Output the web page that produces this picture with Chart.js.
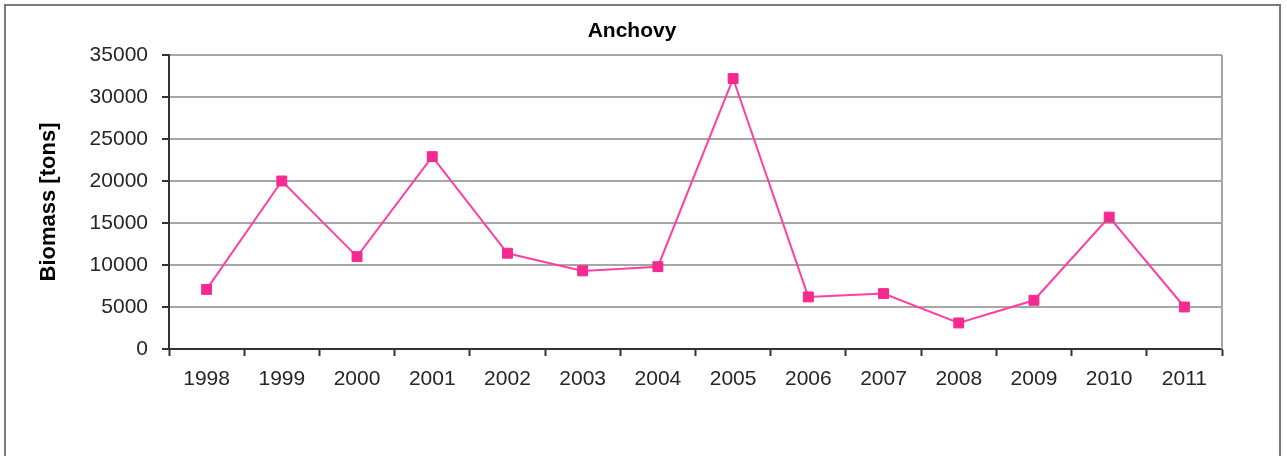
<!DOCTYPE html>
<html>
<head>
<meta charset="utf-8">
<script src="https://cdn.jsdelivr.net/npm/chart.js@4/dist/chart.umd.min.js"></script>
<style>
  html, body { margin: 0; padding: 0; background: #fff; }
  #wrap { position: relative; width: 1287px; height: 456px; overflow: hidden; }
  #frame { position: absolute; left: 4px; top: 4px; width: 1277px; height: 470px; border: 2px solid #7a7a7a; pointer-events: none; box-sizing: border-box; }
  canvas { position: absolute; left: 0; top: 0; }
</style>
</head>
<body>
<div id="wrap">
  <canvas id="c" width="1287" height="456"></canvas>
  <div id="frame"></div>
</div>
<script>
const titleText = 'Anchovy';
const yAxisTitle = 'Biomass [tons]';
const categories = ['1998','1999','2000','2001','2002','2003','2004','2005','2006','2007','2008','2009','2010','2011'];
const biomass = [7100, 20000, 11000, 22900, 11400, 9300, 9800, 32200, 6200, 6600, 3100, 5800, 15700, 5000];
const yMin = 0, yMax = 35000, yStep = 5000;

const textColor = '#262626';
const fontFamily = '"Liberation Sans", Arial, sans-serif';

const framePlugin = {
  id: 'framePlugin',
  afterDraw(chart) {
    const {ctx, chartArea} = chart;
    ctx.save();
    ctx.strokeStyle = '#a6a6a6';
    ctx.lineWidth = 2;
    ctx.beginPath();
    ctx.moveTo(chartArea.right, chartArea.top);
    ctx.lineTo(chartArea.right, chartArea.bottom);
    ctx.stroke();
    ctx.fillStyle = '#000';
    ctx.font = 'bold 21px ' + fontFamily;
    ctx.textAlign = 'center';
    ctx.textBaseline = 'middle';
    ctx.fillText(titleText, 632, 31);
    ctx.restore();
  }
};

new Chart(document.getElementById('c'), {
  type: 'line',
  data: {
    labels: categories,
    datasets: [{
      data: biomass,
      borderColor: '#ff3fa4',
      backgroundColor: '#f5298f',
      pointBackgroundColor: '#f5298f',
      pointBorderColor: '#f5298f',
      borderWidth: 2,
      pointStyle: 'rect',
      pointRadius: 7,
      pointBorderWidth: 1,
      tension: 0
    }]
  },
  plugins: [framePlugin],
  options: {
    responsive: false,
    animation: false,
    layout: { padding: { left: 0, right: 65, top: 55, bottom: 67 } },
    plugins: { legend: { display: false }, tooltip: { enabled: false }, title: { display: false } },
    scales: {
      x: {
        offset: true,
        grid: { offset: true, drawOnChartArea: false, drawTicks: true, tickLength: 7, tickColor: '#333', tickWidth: 2 },
        border: { color: '#333', width: 2 },
        ticks: { color: textColor, font: { family: fontFamily, size: 21 }, padding: 11, maxRotation: 0, autoSkip: false },
        afterFit(scale) { scale.height = 40; }
      },
      y: {
        min: yMin, max: yMax,
        grid: { color: '#a6a6a6', lineWidth: 2, tickLength: 7, tickColor: '#333', tickWidth: 2 },
        border: { color: '#333', width: 2 },
        ticks: { stepSize: yStep, color: textColor, font: { family: fontFamily, size: 21 }, padding: 14,
                 callback: (v) => String(v) },
        title: { display: true, text: yAxisTitle, color: '#000', font: { family: fontFamily, size: 22, weight: 'bold' }, padding: { top: 36, bottom: 0 } },
        afterFit(scale) { scale.width = 169; }
      }
    }
  }
});
</script>
</body>
</html>
